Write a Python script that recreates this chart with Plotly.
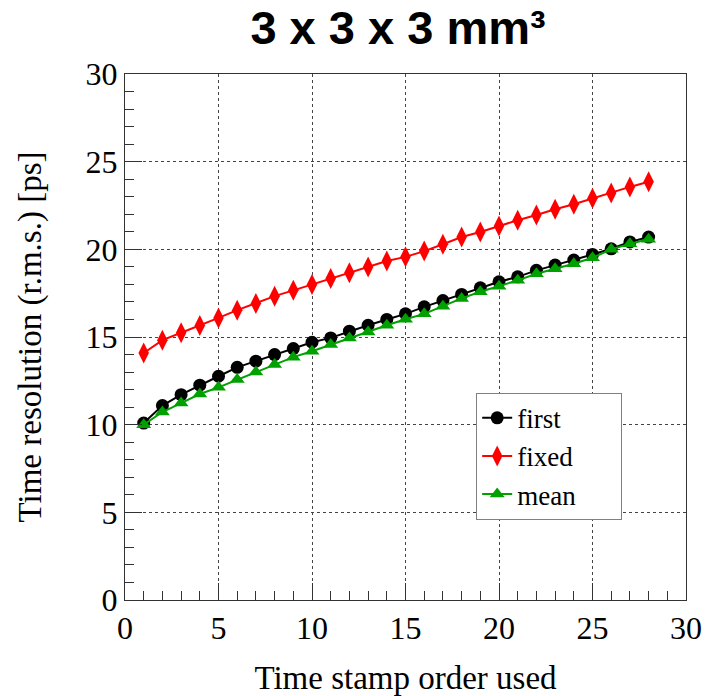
import plotly.graph_objects as go

order = list(range(1, 29))
first = [10.09, 11.09, 11.71, 12.25, 12.76, 13.27, 13.62, 14.00, 14.34, 14.70,
         14.95, 15.33, 15.67, 16.00, 16.32, 16.72, 17.08, 17.43, 17.81, 18.15,
         18.43, 18.80, 19.10, 19.39, 19.71, 20.03, 20.42, 20.70]
fixed = [14.09, 14.82, 15.24, 15.65, 16.09, 16.53, 16.91, 17.33, 17.66, 18.00,
         18.34, 18.66, 18.99, 19.33, 19.57, 19.90, 20.29, 20.70, 20.99, 21.33,
         21.66, 21.96, 22.29, 22.57, 22.91, 23.22, 23.56, 23.85]
mean = [10.00, 10.72, 11.23, 11.75, 12.13, 12.57, 13.00, 13.43, 13.85, 14.19,
        14.57, 14.95, 15.29, 15.67, 16.01, 16.32, 16.76, 17.20, 17.58, 17.90,
        18.23, 18.61, 18.89, 19.18, 19.52, 20.00, 20.32, 20.57]
names = ["first", "fixed", "mean"]

serif = "Liberation Serif, Times New Roman, serif"
pad = "\u00a0" * 6

fig = go.Figure()
fig.add_trace(go.Scatter(x=order, y=first, name=names[0] + pad, mode="lines+markers",
                         line=dict(color="black", width=2),
                         marker=dict(symbol="circle", size=13, color="black")))
fig.add_trace(go.Scatter(x=order, y=fixed, name=names[1] + pad, mode="lines+markers",
                         line=dict(color="#ff0000", width=2),
                         marker=dict(symbol="diamond-tall", size=15, color="#ff0000")))
fig.add_trace(go.Scatter(x=order, y=mean, name=names[2] + pad, mode="lines+markers",
                         line=dict(color="#00a000", width=2),
                         marker=dict(symbol="triangle-up", size=13, color="#00a000")))

axis_common = dict(
    showline=True, linecolor="#333333", linewidth=1, mirror=True,
    ticks="inside", ticklen=17, tickcolor="#333333", tickwidth=1,
    showgrid=True, gridcolor="#444444", griddash="dot", gridwidth=1,
    zeroline=False, automargin=False,
    tickfont=dict(family=serif, size=32, color="black"),
    minor=dict(ticks="inside", ticklen=9, tickcolor="#333333", dtick=1, showgrid=False),
)

fig.update_xaxes(range=[0, 30], dtick=5, tick0=0,
                 title=dict(text="Time stamp order used", font=dict(family=serif, size=33, color="black"), standoff=20),
                 **axis_common)
fig.update_yaxes(range=[0, 30], dtick=5, tick0=0,
                 title=dict(text="Time resolution (r.m.s.) [ps]", font=dict(family=serif, size=33, color="black"), standoff=34),
                 **axis_common)

fig.update_layout(
    width=707, height=696,
    margin=dict(l=125, r=21, t=74, b=96),
    paper_bgcolor="white", plot_bgcolor="white",
    title=dict(text="<b>3 x 3 x 3 mm³</b>", x=0.563, xanchor="center", y=0.96, yanchor="middle",
               font=dict(family="Liberation Sans, Arial, sans-serif", size=47, color="black")),
    legend=dict(x=0.626, y=0.394, xanchor="left", yanchor="top",
                bgcolor="white", bordercolor="#808080", borderwidth=1,
                font=dict(family=serif, size=27, color="black"),
                itemwidth=30, tracegroupgap=0),
    showlegend=True,
)

fig.write_html("out.html")
